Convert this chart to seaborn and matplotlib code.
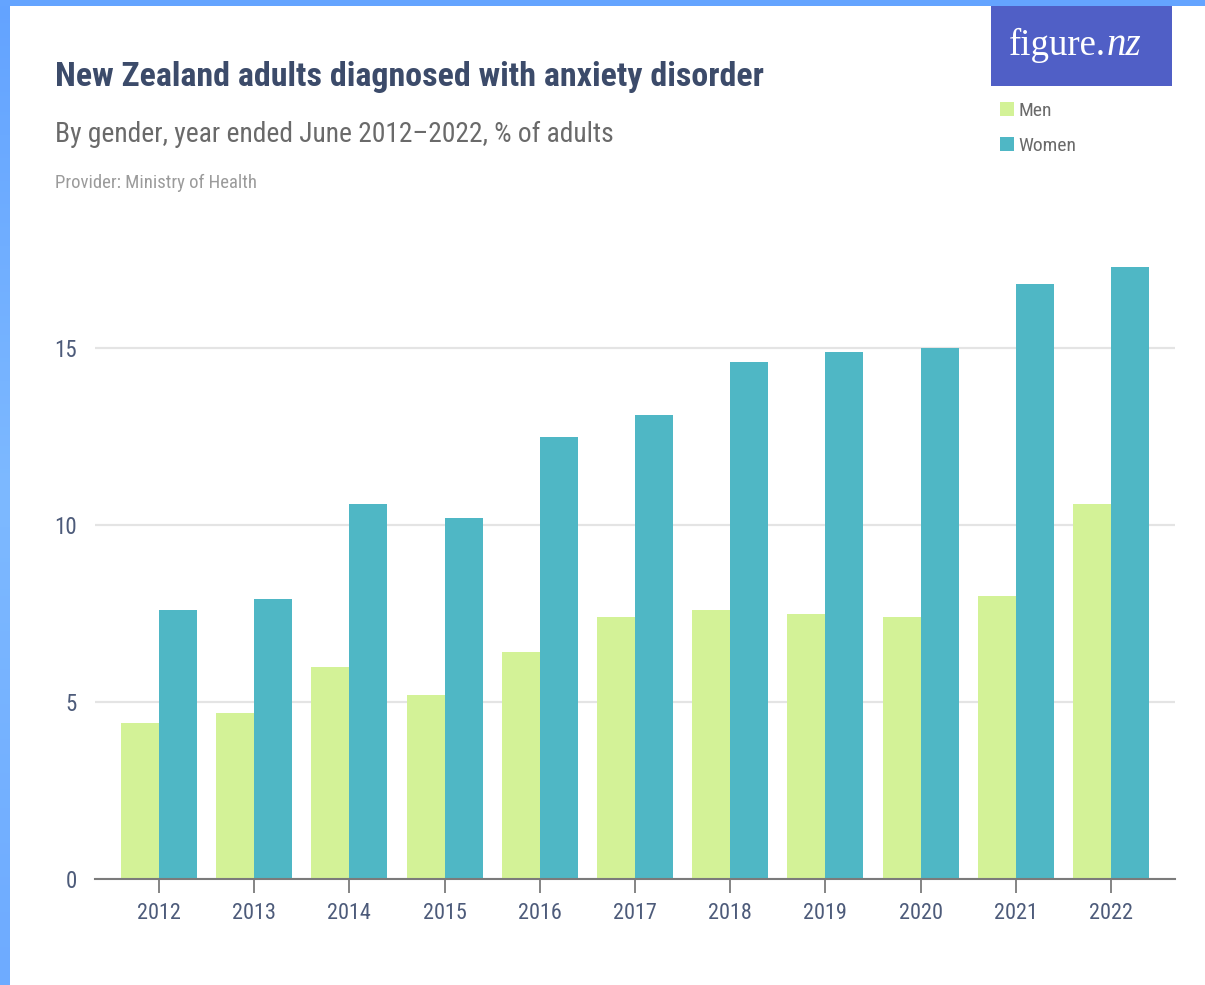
import numpy as np
import pandas as pd
import matplotlib
matplotlib.use("Agg")
import matplotlib.pyplot as plt
from matplotlib.patches import Rectangle
from matplotlib.lines import Line2D
from matplotlib.colors import LinearSegmentedColormap
import seaborn as sns

# Adults diagnosed with anxiety disorder, % of adults, year ended June
years = ["2012", "2013", "2014", "2015", "2016", "2017", "2018", "2019", "2020", "2021", "2022"]
men = [4.4, 4.7, 6.0, 5.2, 6.4, 7.4, 7.6, 7.5, 7.4, 8.0, 10.6]
women = [7.6, 7.9, 10.6, 10.2, 12.5, 13.1, 14.6, 14.9, 15.0, 16.8, 17.3]
genders = ["Men", "Women"]
y_ticks = [0, 5, 10, 15]

title = "New Zealand adults diagnosed with anxiety disorder"
subtitle = "By gender, year ended June 2012\u20132022, % of adults"
provider = "Provider: Ministry of Health"

colors = {"Men": "#d3f297", "Women": "#4fb7c5"}
slate = "#3c4b6a"
tick_col = "#4d5b7a"

sns.set_theme(style="white")
plt.rcParams["font.family"] = ["Roboto Condensed", "DejaVu Sans"]
plt.rcParams["font.stretch"] = "condensed"

df = pd.DataFrame({
    "Year": years * 2,
    "Gender": ["Men"] * len(years) + ["Women"] * len(years),
    "Value": men + women,
})

W, H = 1205, 985
fig = plt.figure(figsize=(W / 100, H / 100), dpi=100)
fig.patch.set_facecolor("white")


def fx(px):
    return px / W


def fy(py):
    return 1 - py / H


# plot area
ymax = 18
px_per_unit = 35.4
y_zero = 879
ax = fig.add_axes([fx(95), fy(y_zero), fx(1175) - fx(95), ymax * px_per_unit / H])
sns.barplot(data=df, x="Year", y="Value", hue="Gender", order=years,
            hue_order=genders, palette=colors, width=0.8, linewidth=0,
            saturation=1, errorbar=None, legend=False, ax=ax)

pad = 0.672
ax.set_xlim(-pad, len(years) - 1 + pad)
ax.set_ylim(0, ymax)
ax.set_yticks(y_ticks)
ax.set_yticklabels([str(t) for t in y_ticks])
ax.set_xlabel("")
ax.set_ylabel("")
ax.set_axisbelow(True)
ax.yaxis.grid(True, color="#e4e4e4", linewidth=1.6)
ax.xaxis.grid(False)
for s in ["top", "right", "left"]:
    ax.spines[s].set_visible(False)
ax.spines["bottom"].set_color("#7b7b7b")
ax.spines["bottom"].set_linewidth(1.5)
ax.spines["bottom"].set_zorder(5)
ax.tick_params(axis="x", bottom=True, length=10, width=1.3, color="#7b7b7b",
               pad=7, labelsize=16, labelcolor=tick_col)
ax.tick_params(axis="y", left=False, length=0, pad=13, labelsize=16.5,
               labelcolor=tick_col)
ax.set_facecolor("white")

# headings
fig.text(fx(55), fy(86), title, fontsize=24.5, fontweight="semibold", color=slate,
         ha="left", va="baseline")
fig.text(fx(55), fy(142), subtitle, fontsize=19.8, color="#6a6a6a",
         ha="left", va="baseline")
fig.text(fx(55), fy(188), provider, fontsize=13.5, color="#9b9b9b",
         ha="left", va="baseline")

# legend
handles = [Line2D([], [], marker="s", linestyle="none", markersize=9.5,
                  markerfacecolor=colors[g], markeredgewidth=0) for g in genders]
leg = fig.legend(handles, genders, loc="upper left",
                 bbox_to_anchor=(fx(990), fy(92)), frameon=False,
                 fontsize=14, labelcolor="#6a6a6a", handlelength=0.7,
                 handletextpad=0.25, labelspacing=0.9, borderpad=0)

# logo
fig.add_artist(Rectangle((fx(991), fy(86)), fx(1172) - fx(991), (86 - 6) / H,
                         transform=fig.transFigure, facecolor="#505fc6",
                         edgecolor="none", zorder=3))
fig.text(fx(1106), fy(55), "figure.", fontsize=26.5, color="white",
         fontweight="normal", family=["Liberation Serif", "DejaVu Serif"],
         stretch="normal", ha="right", va="baseline", zorder=4)
fig.text(fx(1107), fy(55), "nz", fontsize=28, color="white", style="italic",
         fontweight="normal", family=["Liberation Serif", "DejaVu Serif"],
         stretch="normal", ha="left", va="baseline", zorder=4)

# frame edges
edge_ax = fig.add_axes([0, 0, fx(10), 1])
edge_cmap = LinearSegmentedColormap.from_list(
    "edge", ["#63a3ff", "#7db9ff", "#6eabff"])
edge_ax.imshow(np.linspace(0, 1, 256).reshape(-1, 1), aspect="auto",
               cmap=edge_cmap, extent=[0, 1, 0, 1], origin="upper")
edge_ax.set_axis_off()
fig.add_artist(Rectangle((0, fy(6)), 1, 6 / H, transform=fig.transFigure,
                         facecolor="#64a4ff", edgecolor="none", zorder=2))

fig.savefig("out.png", dpi=100, facecolor="white")
